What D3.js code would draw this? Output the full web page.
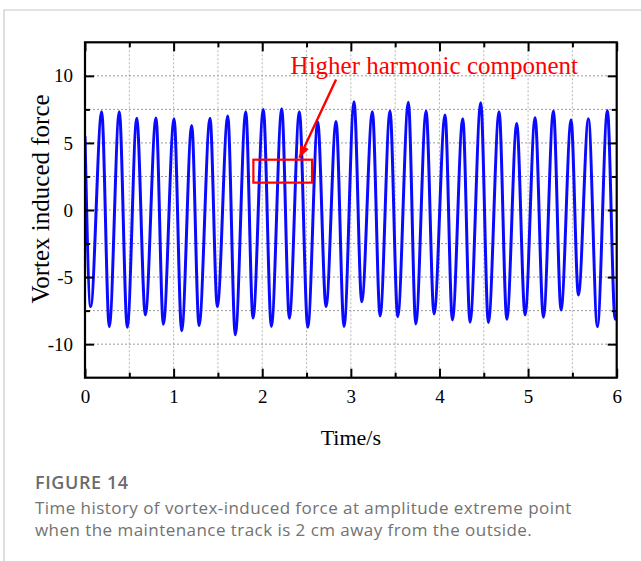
<!DOCTYPE html>
<html>
<head>
<meta charset="utf-8">
<script src="https://cdn.jsdelivr.net/npm/d3@7"></script>
<style>
  body { margin: 0; background: #fff; }
  svg { display: block; }
</style>
</head>
<body>
<div id="chart"></div>
<script>
// values (time in s, force)
const peakTimes = [0.188, 0.387, 0.584, 0.801, 1.005, 1.204, 1.411, 1.611, 1.814, 2.012,
  2.220, 2.419, 2.626, 2.833, 3.036, 3.243, 3.442, 3.649, 3.849, 4.063,
  4.263, 4.466, 4.673, 4.872, 5.079, 5.286, 5.485, 5.681, 5.895];
const peakForces = [7.33, 7.33, 6.83, 6.86, 6.8, 6.3, 6.83, 7.0, 7.33, 7.5,
  7.55, 7.33, 6.56, 6.6, 8.07, 7.33, 7.37, 8.04, 7.37, 7.08,
  6.8, 8.0, 7.33, 6.44, 6.88, 7.37, 6.7, 6.8, 7.42];
const troughTimes = [0.064, 0.274, 0.477, 0.681, 0.884, 1.091, 1.287, 1.493, 1.696, 1.896,
  2.103, 2.306, 2.514, 2.720, 2.923, 3.123, 3.330, 3.529, 3.733, 3.939,
  4.146, 4.345, 4.552, 4.760, 4.966, 5.173, 5.372, 5.568, 5.782, 5.982];
const troughForces = [-7.2, -8.69, -8.74, -7.82, -8.51, -9.0, -8.61, -7.2, -9.3, -8.05,
  -8.68, -8.07, -8.74, -7.2, -8.69, -6.83, -7.9, -7.95, -8.49, -7.75,
  -8.19, -8.36, -8.39, -8.14, -7.82, -8.0, -7.45, -6.34, -8.69, -8.14];
const startPoint = [0, 5.5];
const endPoint = [6, -8.0];

const xTickLabels = [0, 1, 2, 3, 4, 5, 6];
const yTickLabels = [-10, -5, 0, 5, 10];

const annotationText = "Higher harmonic component";

const W = 641, H = 561;
const plot = { left: 85, right: 616.7, top: 42.3, bottom: 377.7 };

const x = d3.scaleLinear().domain([0, 6]).range([plot.left, plot.right]);
const y = d3.scaleLinear().domain([-12.5, 12.5]).range([plot.bottom, plot.top]);

const svg = d3.select("#chart").append("svg")
  .attr("width", W)
  .attr("height", H)
  .style("background", "#fff");

// outer page frame
svg.append("path")
  .attr("d", `M4,${H} V10 H${W}`)
  .attr("fill", "none")
  .attr("stroke", "#c8c8c8")
  .attr("stroke-width", 1.2);

// grid
const grid = svg.append("g");
grid.selectAll("line.vg")
  .data(d3.range(0.5, 6, 0.5))
  .join("line")
  .attr("x1", d => x(d)).attr("x2", d => x(d))
  .attr("y1", plot.top).attr("y2", plot.bottom)
  .attr("stroke", "#b4b4b4")
  .attr("stroke-width", 1)
  .attr("stroke-dasharray", "2,2");
grid.selectAll("line.hg")
  .data(d3.range(-10, 10.1, 2.5))
  .join("line")
  .attr("x1", plot.left).attr("x2", plot.right)
  .attr("y1", d => y(d)).attr("y2", d => y(d))
  .attr("stroke", "#9a9a9a")
  .attr("stroke-width", 1)
  .attr("stroke-dasharray", "2,2");

// signal
const points = [startPoint]
  .concat(peakTimes.map((t, i) => [t, peakForces[i]]))
  .concat(troughTimes.map((t, i) => [t, troughForces[i]]))
  .concat([endPoint])
  .sort((a, b) => a[0] - b[0]);

svg.append("clipPath").attr("id", "clip")
  .append("rect")
  .attr("x", plot.left).attr("y", plot.top)
  .attr("width", plot.right - plot.left).attr("height", plot.bottom - plot.top);

const line = d3.line()
  .x(d => x(d[0]))
  .y(d => y(d[1]))
  .curve(d3.curveMonotoneX);

svg.append("path")
  .datum(points)
  .attr("clip-path", "url(#clip)")
  .attr("fill", "none")
  .attr("stroke", "#0a0aff")
  .attr("stroke-width", 3)
  .attr("stroke-linejoin", "round")
  .attr("d", line);

// axes (ticks pointing inward on all four sides)
const tickFont = "Liberation Serif, Times New Roman, serif";
const plainNum = d => String(d);

const styleAxis = g => {
  g.select(".domain").remove();
  g.selectAll(".tick line").attr("stroke", "#000").attr("stroke-width", 2);
  g.selectAll(".tick text")
    .attr("fill", "#000")
    .style("font-family", tickFont)
    .style("font-size", "19px");
};

svg.append("g")
  .attr("transform", `translate(0,${plot.bottom})`)
  .call(d3.axisBottom(x).tickValues(xTickLabels).tickSize(-9).tickPadding(12).tickFormat(plainNum))
  .call(styleAxis);
svg.append("g")
  .attr("transform", `translate(0,${plot.bottom})`)
  .call(d3.axisBottom(x).tickValues(d3.range(0.5, 6, 1)).tickSize(-5).tickFormat(""))
  .call(styleAxis);
svg.append("g")
  .attr("transform", `translate(0,${plot.top})`)
  .call(d3.axisTop(x).tickValues(xTickLabels).tickSize(-9).tickFormat(""))
  .call(styleAxis);
svg.append("g")
  .attr("transform", `translate(0,${plot.top})`)
  .call(d3.axisTop(x).tickValues(d3.range(0.5, 6, 1)).tickSize(-5).tickFormat(""))
  .call(styleAxis);

svg.append("g")
  .attr("transform", `translate(${plot.left},0)`)
  .call(d3.axisLeft(y).tickValues(yTickLabels).tickSize(-9).tickPadding(12).tickFormat(plainNum))
  .call(styleAxis);
svg.append("g")
  .attr("transform", `translate(${plot.left},0)`)
  .call(d3.axisLeft(y).tickValues([-7.5, -2.5, 2.5, 7.5]).tickSize(-5).tickFormat(""))
  .call(styleAxis);
svg.append("g")
  .attr("transform", `translate(${plot.right},0)`)
  .call(d3.axisRight(y).tickValues(yTickLabels).tickSize(-9).tickFormat(""))
  .call(styleAxis);
svg.append("g")
  .attr("transform", `translate(${plot.right},0)`)
  .call(d3.axisRight(y).tickValues([-7.5, -2.5, 2.5, 7.5]).tickSize(-5).tickFormat(""))
  .call(styleAxis);

// frame
svg.append("rect")
  .attr("x", plot.left).attr("y", plot.top)
  .attr("width", plot.right - plot.left).attr("height", plot.bottom - plot.top)
  .attr("fill", "none")
  .attr("stroke", "#000")
  .attr("stroke-width", 2.2);

// axis titles
svg.append("text")
  .attr("x", (plot.left + plot.right) / 2)
  .attr("y", 445)
  .attr("text-anchor", "middle")
  .style("font-family", tickFont)
  .style("font-size", "22px")
  .text("Time/s");

svg.append("text")
  .attr("transform", "translate(49,199) rotate(-90)")
  .attr("text-anchor", "middle")
  .style("font-family", tickFont)
  .style("font-size", "25px")
  .text("Vortex induced force");

// annotation
svg.append("defs").append("marker")
  .attr("id", "arrow")
  .attr("viewBox", "0 0 10 10")
  .attr("refX", 10).attr("refY", 5)
  .attr("markerWidth", 5).attr("markerHeight", 5)
  .attr("markerUnits", "strokeWidth")
  .attr("orient", "auto")
  .append("path")
  .attr("d", "M0,1 L10,5 L0,9 Z")
  .attr("fill", "#ff0000");

svg.append("rect")
  .attr("x", x(1.9)).attr("y", y(3.75))
  .attr("width", x(2.562) - x(1.9))
  .attr("height", y(2.04) - y(3.75))
  .attr("fill", "none")
  .attr("stroke", "#ff0000")
  .attr("stroke-width", 2.2);

svg.append("line")
  .attr("x1", x(2.833)).attr("y1", y(9.73))
  .attr("x2", x(2.419)).attr("y2", y(3.89))
  .attr("stroke", "#ff0000")
  .attr("stroke-width", 2.4)
  .attr("marker-end", "url(#arrow)");

svg.append("text")
  .attr("x", x(2.32))
  .attr("y", y(10.1))
  .attr("fill", "#ff0000")
  .style("font-family", tickFont)
  .style("font-size", "25px")
  .text(annotationText);

// caption
const capFont = "Open Sans, Lato, sans-serif";
svg.append("text")
  .attr("x", 35).attr("y", 489)
  .attr("fill", "#6b6b6b")
  .style("font-family", capFont)
  .style("font-size", "18px")
  .style("font-weight", 600)
  .style("letter-spacing", "0.6px")
  .text("FIGURE 14");
const capLines = [
  "Time history of vortex-induced force at amplitude extreme point",
  "when the maintenance track is 2 cm away from the outside."
];
svg.selectAll("text.cap")
  .data(capLines)
  .join("text")
  .attr("class", "cap")
  .attr("x", 35)
  .attr("y", (d, i) => 514 + i * 22)
  .attr("fill", "#727272")
  .style("font-family", capFont)
  .style("font-size", "17px")
  .style("letter-spacing", "0.45px")
  .text(d => d);
</script>
</body>
</html>
